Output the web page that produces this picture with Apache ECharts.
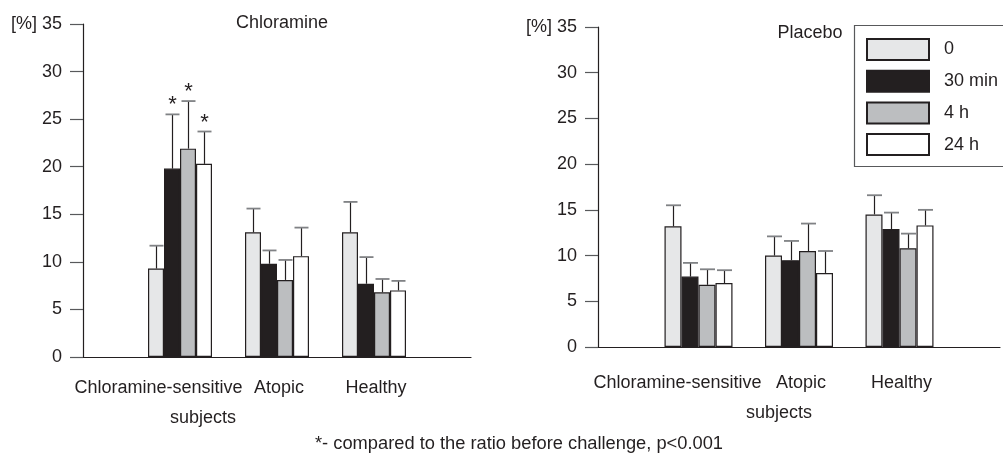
<!DOCTYPE html>
<html>
<head>
<meta charset="utf-8">
<script src="https://cdn.jsdelivr.net/npm/echarts@6/dist/echarts.min.js"></script>
<style>
  html, body { margin: 0; padding: 0; background: #fff; }
  #chart { width: 1003px; height: 461px; }
</style>
</head>
<body>
<div id="chart"></div>
<script>
// Subject groups and sampling times
const groups = ['Chloramine-sensitive', 'Atopic', 'Healthy'];
const timePoints = ['0', '30 min', '4 h', '24 h'];

// Chloramine challenge: mean ratio [%] per group at each time point
const chlorMean0   = [9.3, 13.1, 13.1];
const chlorMean30  = [19.8, 9.8, 7.7];
const chlorMean4h  = [21.9, 8.1, 6.8];
const chlorMean24h = [20.3, 10.6, 7.0];
// Chloramine challenge: SD (upper whisker)
const chlorSd0   = [2.4, 2.5, 3.2];
const chlorSd30  = [5.7, 1.4, 2.8];
const chlorSd4h  = [5.0, 2.1, 1.4];
const chlorSd24h = [3.4, 3.0, 1.0];
// Chloramine challenge: significant vs. before challenge (p<0.001)
const chlorSig0   = [0, 0, 0];
const chlorSig30  = [1, 0, 0];
const chlorSig4h  = [1, 0, 0];
const chlorSig24h = [1, 0, 0];

// Placebo challenge: mean ratio [%]
const placMean0   = [13.2, 10.0, 14.5];
const placMean30  = [7.7, 9.5, 12.9];
const placMean4h  = [6.8, 10.5, 10.8];
const placMean24h = [7.0, 8.1, 13.3];
// Placebo challenge: SD
const placSd0   = [2.3, 2.1, 2.1];
const placSd30  = [1.5, 2.1, 1.8];
const placSd4h  = [1.7, 3.0, 1.6];
const placSd24h = [1.4, 2.4, 1.7];
const placSig0   = [0, 0, 0];
const placSig30  = [0, 0, 0];
const placSig4h  = [0, 0, 0];
const placSig24h = [0, 0, 0];

// Value axis
const yMin = 0, yMax = 35, yStep = 5;

const FONT = "'Liberation Sans', Arial, sans-serif";
const FS = 18;
const INK = '#231f20';
const fills = ['#e6e7e8', '#231f20', '#bcbec0', '#ffffff'];

const panels = [
  { title: 'Chloramine', means: [chlorMean0, chlorMean30, chlorMean4h, chlorMean24h],
    sds: [chlorSd0, chlorSd30, chlorSd4h, chlorSd24h], sig: [chlorSig0, chlorSig30, chlorSig4h, chlorSig24h],
    grid: { left: 83, right: 532, top: 24, bottom: 104 }, barW: 16, labelMargin: 16,
    padA: [0, 43, 0, 0], padB: [0, 0, 0, 46] },
  { title: 'Placebo', means: [placMean0, placMean30, placMean4h, placMean24h],
    sds: [placSd0, placSd30, placSd4h, placSd24h], sig: [placSig0, placSig30, placSig4h, placSig24h],
    grid: { left: 598, right: -9, top: 27, bottom: 114 }, barW: 17, labelMargin: 21,
    padA: [0, 42, 0, 0], padB: [0, 0, 0, 161] }
];

const xCats = [''].concat(groups, ['']);

const grids = [], xAxes = [], yAxes = [], series = [];

panels.forEach(function (p, gi) {
  grids.push(Object.assign({ containLabel: false }, p.grid));
  xAxes.push({
    type: 'category', gridIndex: gi, data: xCats, boundaryGap: false,
    axisLine: { lineStyle: { color: INK, width: 1.2 } },
    axisTick: { show: false },
    axisLabel: {
      interval: 0, margin: p.labelMargin, color: INK, fontFamily: FONT, fontSize: FS, lineHeight: 30,
      formatter: function (v) {
        if (v === groups[0]) return '{a|' + v + '}\n{b|subjects}';
        return v ? '{c|' + v + '}' : '';
      },
      rich: {
        a: { fontFamily: FONT, fontSize: FS, lineHeight: 30, color: INK, padding: p.padA },
        b: { fontFamily: FONT, fontSize: FS, lineHeight: 30, color: INK, padding: p.padB },
        c: { fontFamily: FONT, fontSize: FS, lineHeight: 30, color: INK, padding: [0, 0, 0, 4] }
      }
    }
  });
  yAxes.push({
    type: 'value', gridIndex: gi, min: yMin, max: yMax, interval: yStep,
    splitLine: { show: false },
    axisLine: { show: true, lineStyle: { color: INK, width: 1.2 } },
    axisTick: { show: true, length: 13, lineStyle: { color: '#58595b', width: 1.2 } },
    axisLabel: {
      margin: 21, color: INK, fontFamily: FONT, fontSize: FS,
      formatter: function (v) { return v === yMax ? '[%] ' + v : String(v); }
    }
  });

  p.means.forEach(function (m, s) {
    series.push({
      type: 'bar', name: timePoints[s], xAxisIndex: gi, yAxisIndex: gi,
      barWidth: p.barW, barGap: '0%',
      itemStyle: { color: fills[s], borderColor: INK, borderWidth: 1.2 },
      emphasis: { disabled: true },
      data: ['-'].concat(m, ['-'])
    });
  });

  p.means.forEach(function (m, s) {
    const offset = (s - 1.5) * p.barW;
    const capW = p.barW - 2;
    series.push({
      type: 'custom', name: 'whisker-' + gi + '-' + s, xAxisIndex: gi, yAxisIndex: gi, z: 3,
      silent: true,
      data: m.map(function (v, i) { return [i + 1, v, p.sds[s][i], p.sig[s][i]]; }),
      renderItem: function (params, api) {
        const cat = api.value(0), mean = api.value(1), sd = api.value(2), sig = api.value(3);
        const base = api.coord([cat, mean]);
        const top = api.coord([cat, mean + sd]);
        const x = Math.round(base[0] + offset) + 0.5;
        const children = [
          { type: 'line', shape: { x1: x, y1: base[1], x2: x, y2: top[1] },
            style: { stroke: INK, lineWidth: 1.2 } },
          { type: 'line', shape: { x1: x - capW / 2, y1: top[1], x2: x + capW / 2, y2: top[1] },
            style: { stroke: '#808285', lineWidth: 1.8 } }
        ];
        if (sig) {
          children.push({ type: 'text', x: x, y: top[1] - 9,
            style: { text: '*', fill: INK, fontFamily: FONT, fontSize: 22, align: 'center', verticalAlign: 'middle' } });
        }
        return { type: 'group', children: children };
      }
    });
  });
});

const chart = echarts.init(document.getElementById('chart'), null, { renderer: 'canvas' });
chart.setOption({
  animation: false,
  backgroundColor: '#ffffff',
  textStyle: { fontFamily: FONT },
  title: [
    { text: 'Chloramine', left: 277, top: 9, textAlign: 'center',
      textStyle: { fontFamily: FONT, fontSize: FS, fontWeight: 'normal', color: INK } },
    { text: 'Placebo', left: 805, top: 19, textAlign: 'center',
      textStyle: { fontFamily: FONT, fontSize: FS, fontWeight: 'normal', color: INK } },
    { text: '*- compared to the ratio before challenge, p<0.001', left: 514, top: 430, textAlign: 'center',
      textStyle: { fontFamily: FONT, fontSize: 18.3, fontWeight: 'normal', color: INK } }
  ],
  // Legend frame runs past the right edge of the canvas
  graphic: [
    { type: 'rect', silent: true, z: 1,
      shape: { x: 854.5, y: 25.5, width: 200, height: 141 },
      style: { fill: 'none', stroke: '#58595b', lineWidth: 1.2 } }
  ],
  legend: {
    data: timePoints, orient: 'vertical', left: 854, top: 25,
    icon: 'rect', itemWidth: 62, itemHeight: 21, itemGap: 8.7,
    padding: [13, 10, 12, 12],
    borderWidth: 0, selectedMode: false,
    textStyle: { fontFamily: FONT, fontSize: FS, color: INK, padding: [0, 0, 0, 10] }
  },
  grid: grids, xAxis: xAxes, yAxis: yAxes, series: series
});
</script>
</body>
</html>
